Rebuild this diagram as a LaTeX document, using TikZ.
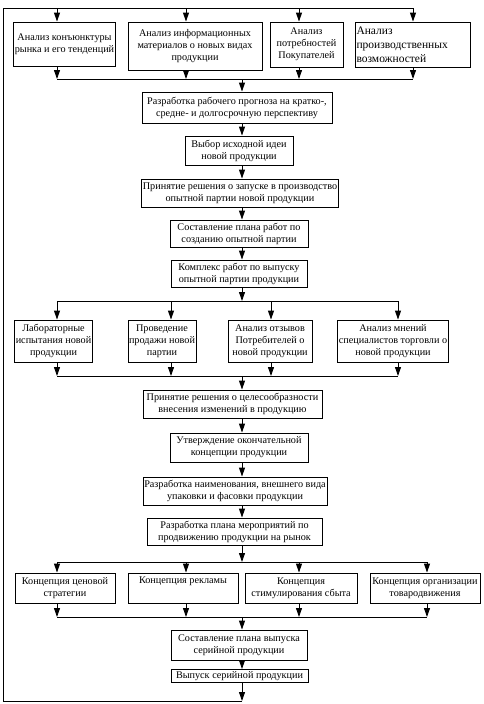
\documentclass[tikz,border=0pt]{standalone}
\usepackage{fontspec}
\setmainfont{Liberation Serif}
\usetikzlibrary{arrows.meta}
\begin{document}
\begin{tikzpicture}[x=1pt,y=-1pt,
  box/.style={draw, line width=0.9pt, align=center, inner sep=1pt, font=\fontsize{10.2}{12}\selectfont},
  arr/.style={line width=0.9pt, -{Triangle[width=6pt,length=9pt]}},
  ln/.style={line width=0.9pt}]
\useasboundingbox (0,0) rectangle (484,704);
% x positions
\coordinate (mx) at (242,0);
% ---- top row
\node[box, minimum width=101pt, minimum height=44pt] (b1) at (64.5,44) {Анализ конъюнктуры\\рынка и его тенденций};
\node[box, minimum width=134pt, minimum height=48pt] (b2) at (195,46) {Анализ информационных\\материалов о новых видах\\продукции};
\node[box, minimum width=73pt, minimum height=45pt] (b3) at (306.5,44.5) {Анализ\\потребностей\\Покупателей};
\node[box, minimum width=115pt, minimum height=45pt, text width=112pt, align=left, font=\fontsize{11.5}{14}\selectfont] (b4) at (412.5,44.5) {Анализ\\производственных\\возможностей};
% loop coordinates
\coordinate (t1) at (57,8);
\coordinate (t2) at (186,8);
\coordinate (t3) at (299,8);
\coordinate (t4) at (413,8);
\coordinate (lc) at (3,8);
\coordinate (bc) at (3,701);
\coordinate (bm) at (242,701);
\draw[arr] (t1) -- (t1 |- b1.north);
\draw[arr] (t2) -- (t2 |- b2.north);
\draw[arr] (t3) -- (t3 |- b3.north);
\draw[arr] (t4) -- (t4 |- b4.north);
% collector 1
\coordinate (c1a) at (57,79);
\coordinate (c1b) at (186,79);
\coordinate (c1c) at (299,79);
\coordinate (c1d) at (413,79);
\coordinate (c1m) at (242,79);
\draw[arr] (b1.south -| c1a) -- (c1a);
\draw[arr] (b2.south -| c1b) -- (c1b);
\draw[arr] (b3.south -| c1c) -- (c1c);
\draw[arr] (b4.south -| c1d) -- (c1d);
\draw[ln] (c1a) -- (c1d);
% ---- main column
\node[box, minimum width=190pt, minimum height=31pt] (r1) at (237,107.5) {Разработка рабочего прогноза на кратко-,\\средне- и долгосрочную перспективу};
\node[box, minimum width=108pt, minimum height=29pt] (r2) at (239,150.5) {Выбор исходной идеи\\новой продукции};
\node[box, minimum width=194pt, minimum height=28pt] (r3) at (240,193) {Принятие решения о запуске в производство\\опытной партии новой продукции};
\node[box, minimum width=138pt, minimum height=27pt] (r4) at (239,233.5) {Составление плана работ по\\созданию опытной партии};
\node[box, minimum width=136pt, minimum height=27pt] (r5) at (239,273.5) {Комплекс работ по выпуску\\опытной партии продукции};
\draw[arr] (c1m) -- (r1.north -| mx);
\draw[arr] (r1.south -| mx) -- (r2.north -| mx);
\draw[arr] (r2.south -| mx) -- (r3.north -| mx);
\draw[arr] (r3.south -| mx) -- (r4.north -| mx);
\draw[arr] (r4.south -| mx) -- (r5.north -| mx);
% collector 2
\coordinate (c2a) at (57,301);
\coordinate (c2b) at (171,301);
\coordinate (c2c) at (271,301);
\coordinate (c2d) at (398,301);
\coordinate (c2m) at (242,301);
\draw[arr] (r5.south -| mx) -- (c2m);
\draw[ln] (c2a) -- (c2d);
% ---- third row
\node[box, minimum width=77pt, minimum height=42pt] (k1) at (53.5,341) {Лабораторные\\испытания новой\\продукции};
\node[box, minimum width=68pt, minimum height=42pt] (k2) at (162,341) {Проведение\\продажи новой\\партии};
\node[box, minimum width=84pt, minimum height=42pt] (k3) at (270,341) {Анализ отзывов\\Потребителей о\\новой продукции};
\node[box, minimum width=102pt, minimum height=42pt] (k4) at (393,341) {Анализ мнений\\специалистов торговли о\\новой продукции};
\draw[arr] (c2a) -- (c2a |- k1.north);
\draw[arr] (c2b) -- (c2b |- k2.north);
\draw[arr] (c2c) -- (c2c |- k3.north);
\draw[arr] (c2d) -- (c2d |- k4.north);
% collector 3
\coordinate (c3a) at (57,376);
\coordinate (c3b) at (171,376);
\coordinate (c3c) at (271,376);
\coordinate (c3d) at (398,376);
\coordinate (c3m) at (242,376);
\draw[arr] (k1.south -| c3a) -- (c3a);
\draw[arr] (k2.south -| c3b) -- (c3b);
\draw[arr] (k3.south -| c3c) -- (c3c);
\draw[arr] (k4.south -| c3d) -- (c3d);
\draw[ln] (c3a) -- (c3d);
% ---- middle column
\node[box, minimum width=179pt, minimum height=28pt] (d1) at (232.5,404) {Принятие решения о целесообразности\\внесения изменений в продукцию};
\node[box, minimum width=138pt, minimum height=29pt] (d2) at (239,447.5) {Утверждение окончательной\\концепции продукции};
\node[box, minimum width=184pt, minimum height=28pt] (d3) at (235,491) {Разработка наименования, внешнего вида\\упаковки и фасовки продукции};
\node[box, minimum width=175pt, minimum height=27pt] (d4) at (234.5,531.5) {Разработка плана мероприятий по\\продвижению продукции на рынок};
\draw[arr] (c3m) -- (d1.north -| mx);
\draw[arr] (d1.south -| mx) -- (d2.north -| mx);
\draw[arr] (d2.south -| mx) -- (d3.north -| mx);
\draw[arr] (d3.south -| mx) -- (d4.north -| mx);
% collector 4
\coordinate (c4a) at (57,562);
\coordinate (c4b) at (186,562);
\coordinate (c4c) at (299,562);
\coordinate (c4d) at (427,562);
\coordinate (c4m) at (242,562);
\draw[arr] (d4.south -| mx) -- (c4m);
\draw[ln] (c4a) -- (c4d);
% ---- fifth row
\node[box, minimum width=100pt, minimum height=30pt] (e1) at (65,588) {Концепция ценовой\\стратегии};
\node[box, minimum width=110pt, minimum height=30pt] (e2) at (183,588) {Концепция рекламы\\\strut};
\node[box, minimum width=112pt, minimum height=30pt] (e3) at (301,588) {Концепция\\стимулирования сбыта};
\node[box, minimum width=110pt, minimum height=30pt] (e4) at (425,588) {Концепция организации\\товародвижения};
\draw[arr] (c4a) -- (c4a |- e1.north);
\draw[arr] (c4b) -- (c4b |- e2.north);
\draw[arr] (c4c) -- (c4c |- e3.north);
\draw[arr] (c4d) -- (c4d |- e4.north);
% collector 5
\coordinate (c5a) at (57,617);
\coordinate (c5b) at (186,617);
\coordinate (c5c) at (299,617);
\coordinate (c5d) at (427,617);
\coordinate (c5m) at (242,617);
\draw[arr] (e1.south -| c5a) -- (c5a);
\draw[arr] (e2.south -| c5b) -- (c5b);
\draw[arr] (e3.south -| c5c) -- (c5c);
\draw[arr] (e4.south -| c5d) -- (c5d);
\draw[ln] (c5a) -- (c5d);
% ---- bottom
\node[box, minimum width=136pt, minimum height=30pt] (f1) at (239,645) {Составление плана выпуска\\серийной продукции};
\node[box, minimum width=137pt, minimum height=13pt, inner sep=0pt] (f2) at (239.5,676) {Выпуск серийной продукции};
\draw[arr] (c5m) -- (f1.north -| mx);
\draw[arr] (f1.south -| mx) -- (f2.north -| mx);
\draw[arr] (f2.south -| mx) -- (bm);
\draw[ln] (bm) -- (bc) -- (lc) -- (t4);
\end{tikzpicture}
\end{document}
